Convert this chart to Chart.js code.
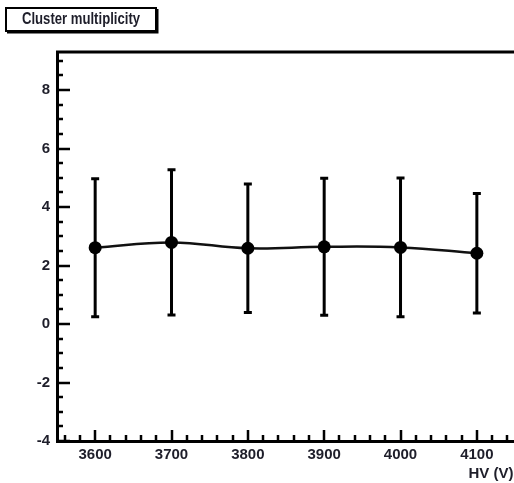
<!DOCTYPE html>
<html>
<head>
<meta charset="utf-8">
<script src="https://cdn.jsdelivr.net/npm/chart.js@4/dist/chart.umd.min.js"></script>
<style>
  html, body { margin: 0; padding: 0; background: #fff; overflow: hidden; }
  #wrap { width: 514px; height: 483px; overflow: hidden; }
</style>
</head>
<body>
<div id="wrap"><canvas id="hvChart" width="520" height="483"></canvas></div>
<script>
// HV scan: mean cluster multiplicity with its spread
const hv = [3600, 3700, 3800, 3900, 4000, 4100];
const multiplicity = [2.61, 2.79, 2.59, 2.64, 2.62, 2.42];
const spread = [2.36, 2.48, 2.20, 2.34, 2.37, 2.04];
const xTicks = [3600, 3700, 3800, 3900, 4000, 4100];
const yTicks = [-4, -2, 0, 2, 4, 6, 8];

const FONT = '"Liberation Sans", Arial, Helvetica, sans-serif';
const INK = '#1e1e2a';

// vertical error bars with flat caps
const errorBars = {
    id: 'errorBars',
    beforeDatasetsDraw(chart) {
        const { ctx, scales: { x, y } } = chart;
        ctx.save();
        ctx.strokeStyle = '#000';
        ctx.lineWidth = 3;
        hv.forEach((v, i) => {
            const px = x.getPixelForValue(v);
            const top = y.getPixelForValue(multiplicity[i] + spread[i]);
            const bot = y.getPixelForValue(multiplicity[i] - spread[i]);
            ctx.beginPath();
            ctx.moveTo(px, top);
            ctx.lineTo(px, bot);
            ctx.moveTo(px - 4, top);
            ctx.lineTo(px + 4, top);
            ctx.moveTo(px - 4, bot);
            ctx.lineTo(px + 4, bot);
            ctx.stroke();
        });
        ctx.restore();
    }
};

// frame top edge, inward tick marks and the title pave
const frameTicks = {
    id: 'frameTicks',
    afterDraw(chart) {
        const { ctx, chartArea: a, scales: { x, y } } = chart;
        ctx.save();
        ctx.strokeStyle = '#000';
        ctx.lineWidth = 3;
        ctx.beginPath();
        ctx.moveTo(a.left - 1, a.top);
        ctx.lineTo(a.right + 10, a.top);
        ctx.stroke();

        ctx.lineWidth = 2.5;
        ctx.beginPath();
        for (let v = -4; v <= y.max + 1e-9; v += 0.5) {
            const py = Math.round(y.getPixelForValue(v));
            const len = Math.abs(v % 2) < 1e-9 ? 13 : 6;
            ctx.moveTo(a.left, py);
            ctx.lineTo(a.left + len, py);
        }
        for (let v = 3560; v <= x.max; v += 20) {
            const px = Math.round(x.getPixelForValue(v));
            const len = v % 100 === 0 ? 11 : 6;
            ctx.moveTo(px, a.bottom);
            ctx.lineTo(px, a.bottom - len);
        }
        ctx.stroke();

        ctx.fillStyle = '#fff';
        ctx.fillRect(6, 8, 150, 23);
        ctx.lineWidth = 2;
        ctx.strokeRect(6, 8, 150, 23);
        ctx.beginPath();
        ctx.moveTo(7, 32.5);
        ctx.lineTo(157.5, 32.5);
        ctx.lineTo(157.5, 9);
        ctx.stroke();
        ctx.fillStyle = INK;
        ctx.font = 'bold 16px ' + FONT;
        ctx.textAlign = 'center';
        ctx.textBaseline = 'middle';
        ctx.translate(81, 20);
        ctx.scale(0.82, 1);
        ctx.fillText('Cluster multiplicity', 0, 0);
        ctx.restore();
    }
};

const ctx = document.getElementById('hvChart').getContext('2d');
new Chart(ctx, {
    type: 'line',
    data: {
        datasets: [{
            label: 'Cluster multiplicity',
            data: hv.map((v, i) => ({ x: v, y: multiplicity[i] })),
            borderColor: '#111',
            backgroundColor: '#000',
            borderWidth: 2.5,
            tension: 0.4,
            pointRadius: 6.5,
            pointBorderWidth: 0,
            fill: false
        }]
    },
    options: {
        responsive: false,
        animation: false,
        devicePixelRatio: 1,
        layout: { padding: { top: 52, left: 0, right: 0, bottom: 0 } },
        plugins: {
            legend: { display: false },
            title: { display: false },
            tooltip: { enabled: false }
        },
        scales: {
            x: {
                type: 'linear',
                min: 3550,
                max: 4148,
                afterBuildTicks: s => { s.ticks = xTicks.map(v => ({ value: v })); },
                afterFit: s => { s.height = 42; },
                grid: { display: false, drawTicks: false },
                border: { display: true, color: '#000', width: 3 },
                ticks: {
                    color: INK,
                    padding: 5,
                    maxRotation: 0,
                    callback: v => String(v),
                    font: { family: FONT, size: 15, weight: 'bold' }
                },
                title: {
                    display: true,
                    text: 'HV (V)',
                    align: 'end',
                    color: INK,
                    padding: { top: -2, bottom: 0 },
                    font: { family: FONT, size: 15, weight: 'bold' }
                }
            },
            y: {
                type: 'linear',
                min: -4,
                max: 9.3,
                afterBuildTicks: s => { s.ticks = yTicks.map(v => ({ value: v })); },
                afterFit: s => { s.width = 57; },
                grid: { display: false, drawTicks: false },
                border: { display: true, color: '#000', width: 3 },
                ticks: {
                    color: INK,
                    padding: 7,
                    callback: v => String(v),
                    font: { family: FONT, size: 15, weight: 'bold' }
                }
            }
        }
    },
    plugins: [errorBars, frameTicks]
});
</script>
</body>
</html>
